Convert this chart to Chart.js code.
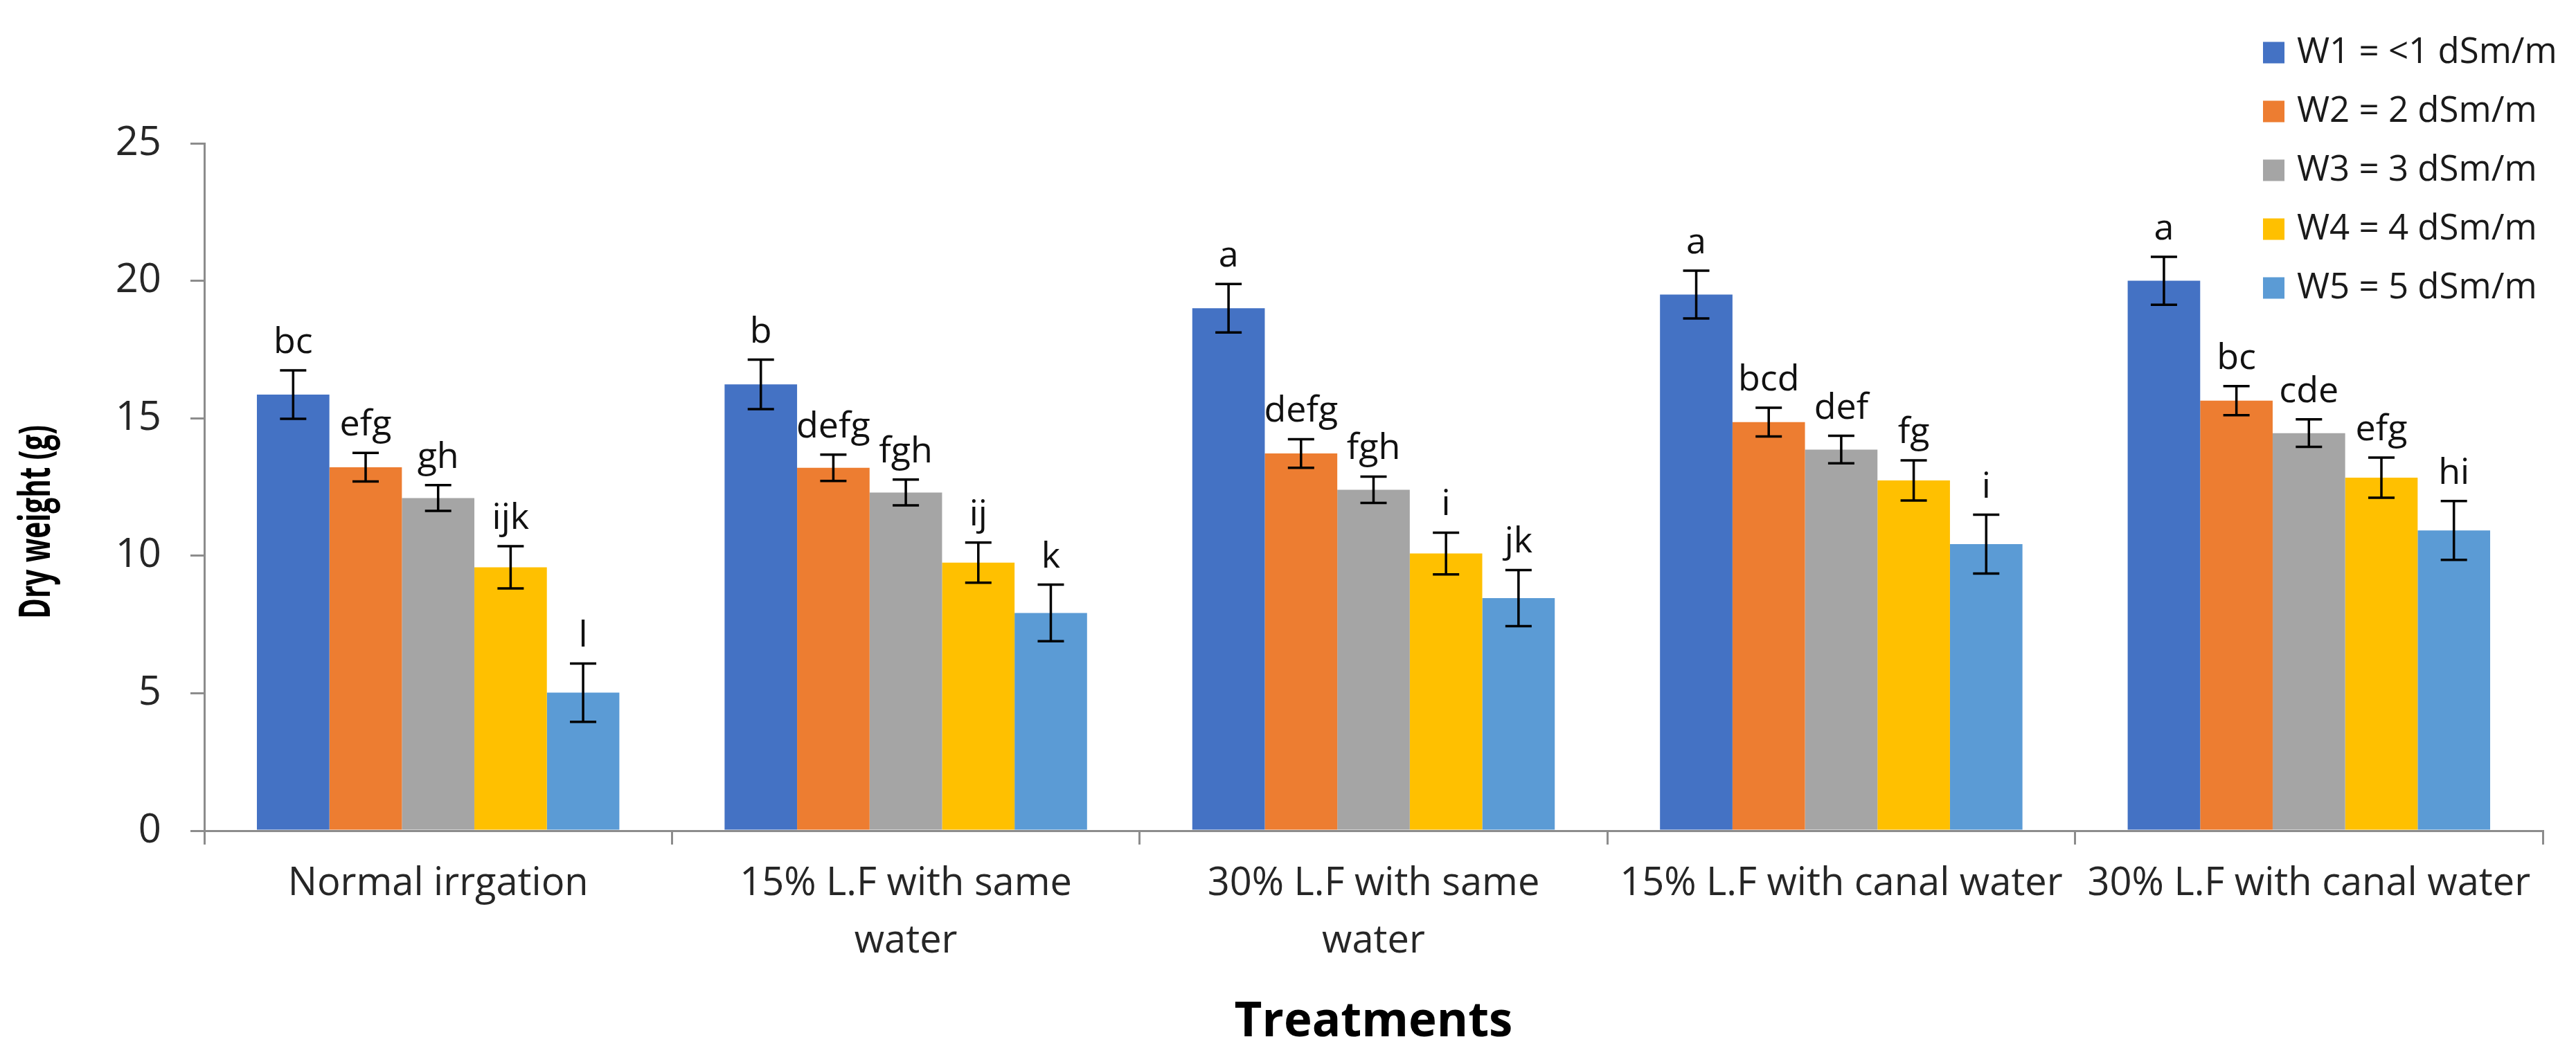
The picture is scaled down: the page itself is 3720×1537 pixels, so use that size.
<!DOCTYPE html>
<html>
<head>
<meta charset="utf-8">
<title>Dry weight</title>
<script src="https://cdn.jsdelivr.net/npm/chart.js@4.4.1/dist/chart.umd.min.js"></script>
<style>
  html, body { margin: 0; padding: 0; background: #ffffff; }
  #chart { display: block; }
</style>
</head>
<body>
<canvas id="chart" width="3720" height="1537" style="width:3720px;height:1537px"></canvas>
<script>
(function () {
  "use strict";

  // Tratamentos (eixo X)
  var categorias = [
    "Normal irrgation",
    ["15% L.F with same", "water"],
    ["30% L.F with same", "water"],
    "15% L.F with canal water",
    "30% L.F with canal water",
  ];

  var series = [
    "W1 = <1 dSm/m",
    "W2 = 2 dSm/m",
    "W3 = 3 dSm/m",
    "W4 = 4 dSm/m",
    "W5 = 5 dSm/m",
  ];

  // Médias (g)
  var w1 = [15.86, 16.23, 19.0, 19.5, 20.0];
  var w2 = [13.22, 13.2, 13.72, 14.86, 15.64];
  var w3 = [12.1, 12.3, 12.4, 13.86, 14.46];
  var w4 = [9.58, 9.75, 10.08, 12.74, 12.84];
  var w5 = [5.02, 7.92, 8.46, 10.42, 10.92];

  // Erro padrão
  var e1 = [0.88, 0.9, 0.88, 0.87, 0.87];
  var e2 = [0.52, 0.48, 0.52, 0.52, 0.53];
  var e3 = [0.47, 0.47, 0.48, 0.5, 0.5];
  var e4 = [0.77, 0.73, 0.76, 0.73, 0.73];
  var e5 = [1.06, 1.03, 1.02, 1.07, 1.07];

  // Letras de significância
  var l1 = ["bc", "b", "a", "a", "a"];
  var l2 = ["efg", "defg", "defg", "bcd", "bc"];
  var l3 = ["gh", "fgh", "fgh", "def", "cde"];
  var l4 = ["ijk", "ij", "i", "fg", "efg"];
  var l5 = ["l", "k", "jk", "i", "hi"];

  var yTicks = [0, 5, 10, 15, 20, 25];
  var tituloY = "Dry weight (g)";

  var cores = ["#4472C4", "#ED7D31", "#A5A5A5", "#FFC000", "#5B9BD5"];
  var valores = [w1, w2, w3, w4, w5];
  var erros = [e1, e2, e3, e4, e5];
  var letras = [l1, l2, l3, l4, l5];

  var FONT = "'Open Sans', 'Noto Sans', sans-serif";
  var AXIS = "#8C8C8C";

  var errorBars = {
    id: "errorBars",
    afterDatasetsDraw: function (chart) {
      var ctx = chart.ctx;
      var y = chart.scales.y;
      ctx.save();
      chart.data.datasets.forEach(function (ds, i) {
        var meta = chart.getDatasetMeta(i);
        meta.data.forEach(function (bar, j) {
          var v = ds.data[j];
          var e = ds.errors[j];
          var top = y.getPixelForValue(v + e);
          var bot = y.getPixelForValue(v - e);
          ctx.strokeStyle = "#000000";
          ctx.lineWidth = 3.5;
          ctx.beginPath();
          ctx.moveTo(bar.x, top);
          ctx.lineTo(bar.x, bot);
          ctx.moveTo(bar.x - 19, top);
          ctx.lineTo(bar.x + 19, top);
          ctx.moveTo(bar.x - 19, bot);
          ctx.lineTo(bar.x + 19, bot);
          ctx.stroke();

          ctx.fillStyle = "#111111";
          ctx.font = "52px " + FONT;
          ctx.textAlign = "center";
          ctx.textBaseline = "alphabetic";
          ctx.fillText(ds.letters[j], bar.x, top - 25);
        });
      });
      ctx.restore();
    },
  };

  var legenda = {
    id: "legenda",
    afterDraw: function (chart) {
      var ctx = chart.ctx;
      ctx.save();
      chart.data.datasets.forEach(function (ds, i) {
        var cy = 76 + i * 85;
        ctx.fillStyle = ds.backgroundColor;
        ctx.fillRect(3268, cy - 15.5, 31, 31);
        ctx.fillStyle = "#1a1a1a";
        ctx.font = "51px " + FONT;
        ctx.textAlign = "left";
        ctx.textBaseline = "middle";
        ctx.fillText(ds.label, 3317, cy);
      });
      ctx.restore();

      // título do eixo Y: condensado como no original, um pouco abaixo do centro
      ctx.save();
      ctx.font = "bold 62px " + FONT;
      var largura = ctx.measureText(tituloY).width;
      ctx.translate(54, 754);
      ctx.rotate(-Math.PI / 2);
      ctx.scale(280 / largura, 1);
      ctx.fillStyle = "#000000";
      ctx.textAlign = "center";
      ctx.textBaseline = "middle";
      ctx.fillText(tituloY, 0, 0);
      ctx.restore();
    },
  };

  new Chart(document.getElementById("chart"), {
    type: "bar",
    data: {
      labels: categorias,
      datasets: series.map(function (nome, i) {
        return {
          label: nome,
          data: valores[i],
          errors: erros[i],
          letters: letras[i],
          backgroundColor: cores[i],
          borderWidth: 0,
          categoryPercentage: 0.775,
          barPercentage: 1.0,
        };
      }),
    },
    options: {
      responsive: false,
      animation: false,
      devicePixelRatio: 1,
      layout: { padding: { top: 207, right: 48, left: 0, bottom: 0 } },
      plugins: {
        legend: { display: false },
        tooltip: { enabled: false },
      },
      scales: {
        x: {
          afterFit: function (s) {
            s.height = 337;
          },
          grid: {
            offset: true,
            drawOnChartArea: false,
            drawTicks: true,
            tickLength: 20,
            color: AXIS,
            lineWidth: 3,
          },
          border: { display: true, color: AXIS, width: 3 },
          ticks: {
            color: "#262626",
            font: { family: FONT, size: 56, lineHeight: 1.48 },
            padding: 16,
            maxRotation: 0,
            minRotation: 0,
            autoSkip: false,
          },
          title: {
            display: true,
            text: "Treatments",
            color: "#000000",
            font: { family: FONT, size: 69, weight: "bold", lineHeight: 1.2 },
            padding: { top: 0, bottom: 18 },
          },
        },
        y: {
          min: 0,
          max: 25,
          afterFit: function (s) {
            s.width = 295;
          },
          afterBuildTicks: function (s) {
            s.ticks = yTicks.map(function (v) {
              return { value: v };
            });
          },
          grid: {
            drawOnChartArea: false,
            drawTicks: true,
            tickLength: 20,
            color: AXIS,
            lineWidth: 3,
          },
          border: { display: true, color: AXIS, width: 3 },
          ticks: {
            color: "#262626",
            font: { family: FONT, size: 58 },
            padding: 42,
          },
        },
      },
    },
    plugins: [errorBars, legenda],
  });
})();
</script>
</body>
</html>
